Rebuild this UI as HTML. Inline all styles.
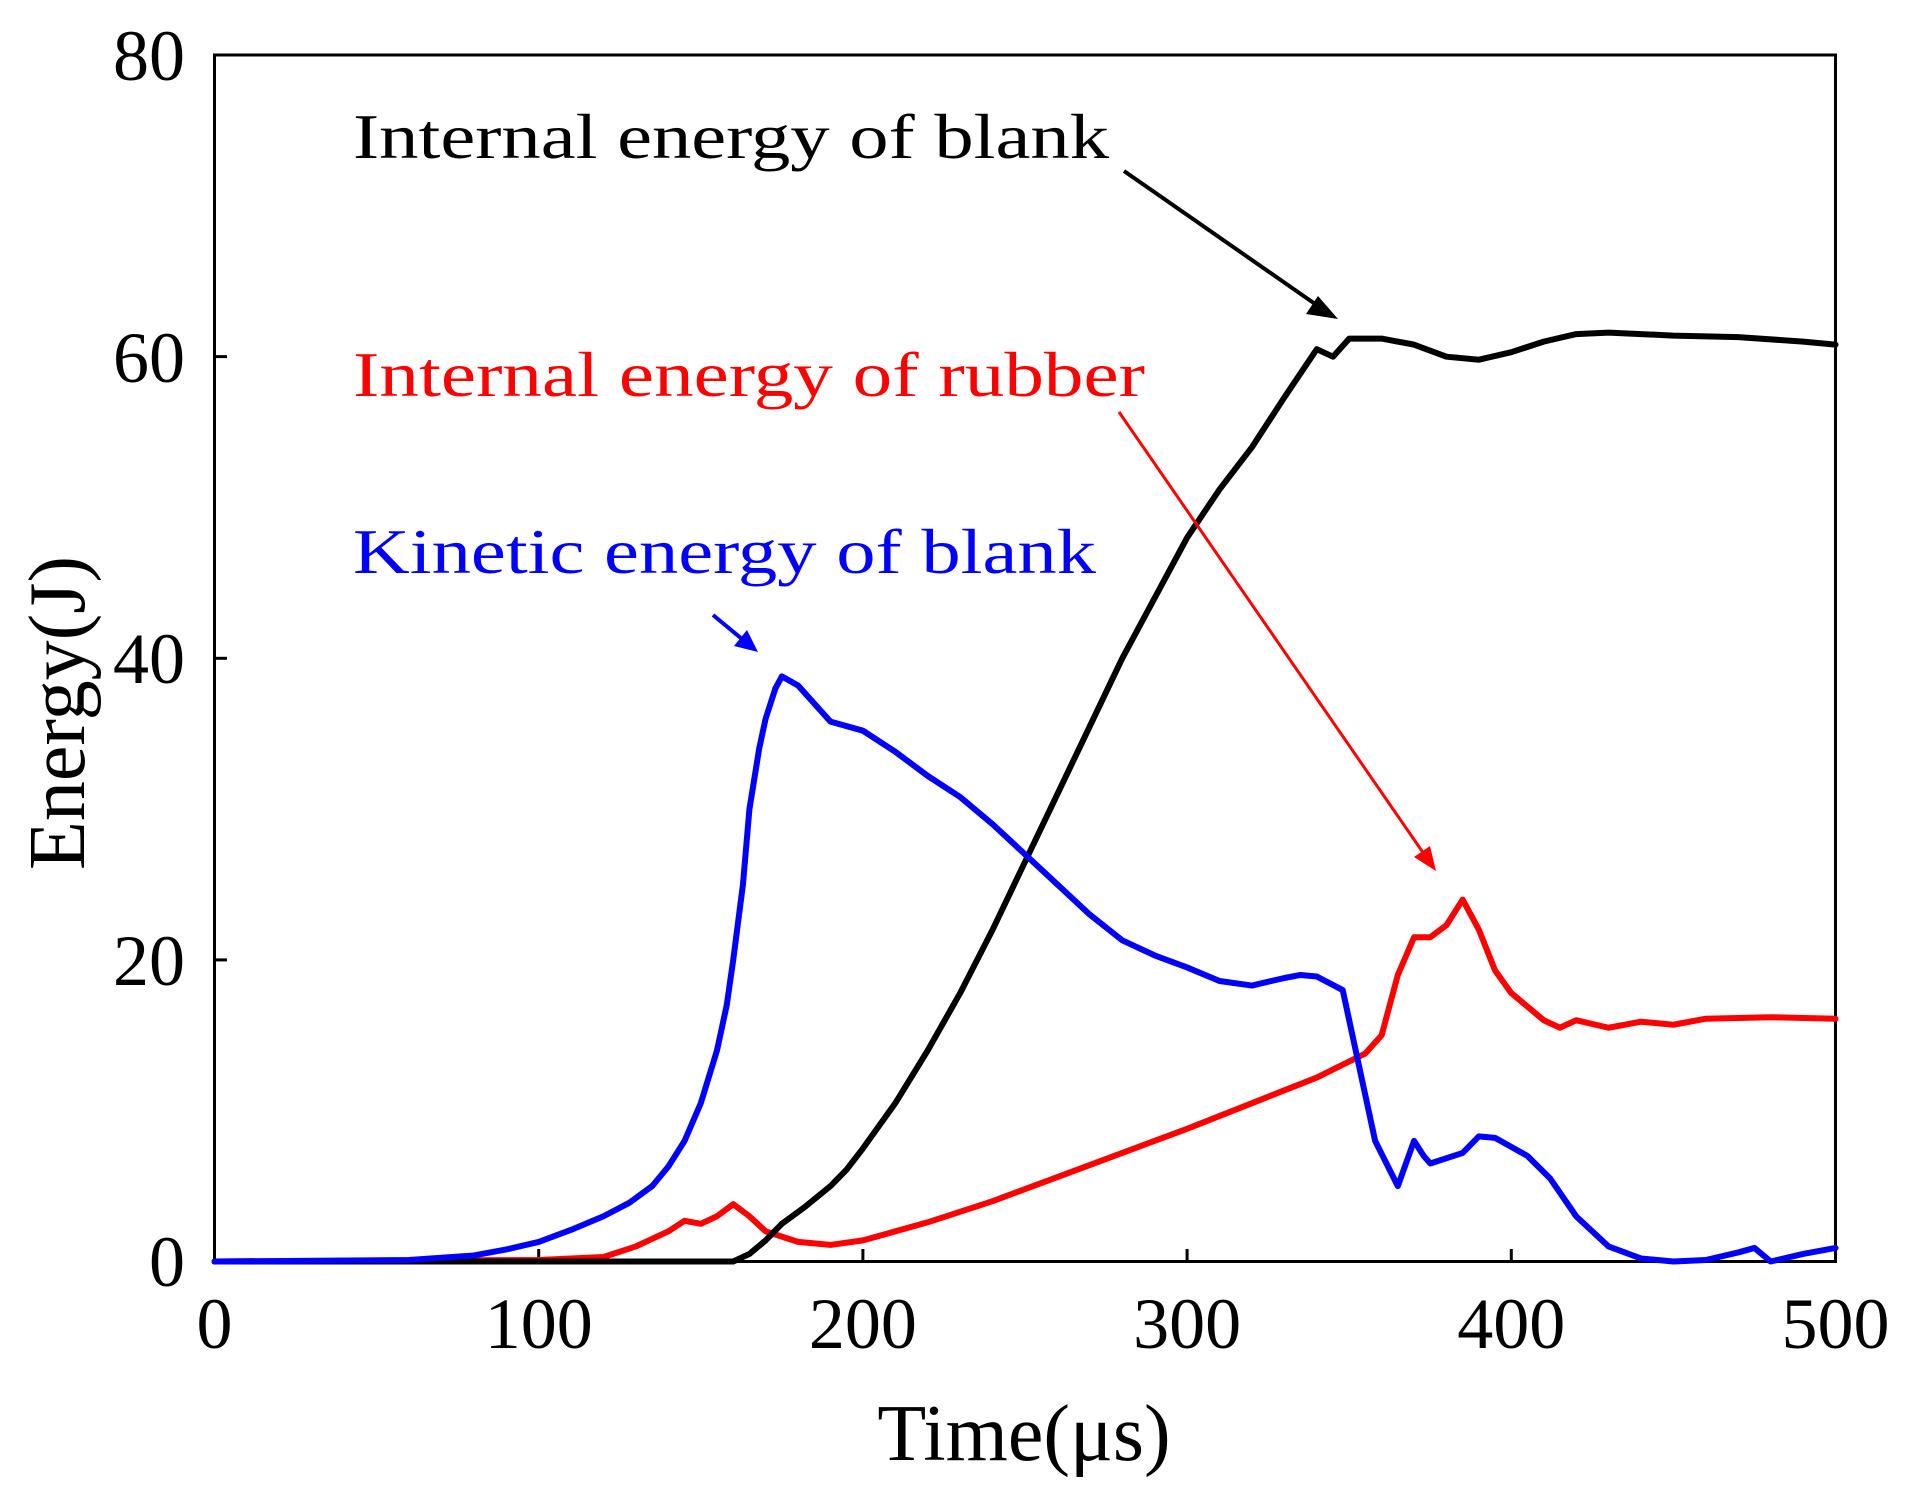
<!DOCTYPE html>
<html><head><meta charset="utf-8"><style>html,body{margin:0;padding:0;background:#fff;}svg{display:block}</style></head>
<body>
<svg width="1911" height="1498" viewBox="0 0 1911 1498" xmlns="http://www.w3.org/2000/svg" font-family="Liberation Serif, serif">
<rect width="1911" height="1498" fill="#fff"/>
<rect x="214.5" y="55" width="1621" height="1206.5" fill="none" stroke="#000" stroke-width="3"/>
<g stroke="#000" stroke-width="3">
<line x1="538.7" y1="1261.5" x2="538.7" y2="1249"/><line x1="862.9" y1="1261.5" x2="862.9" y2="1249"/><line x1="1187.1" y1="1261.5" x2="1187.1" y2="1249"/><line x1="1511.3" y1="1261.5" x2="1511.3" y2="1249"/>
<line x1="214.5" y1="959.9" x2="227" y2="959.9"/><line x1="214.5" y1="658.3" x2="227" y2="658.3"/><line x1="214.5" y1="356.6" x2="227" y2="356.6"/>
</g>
<g font-size="72" text-anchor="end" fill="#000">
<text x="185" y="1286">0</text><text x="185" y="985">20</text><text x="185" y="683">40</text><text x="185" y="382">60</text><text x="185" y="80">80</text>
</g>
<g font-size="72" text-anchor="middle" fill="#000">
<text x="214.5" y="1348">0</text><text x="538.7" y="1348">100</text><text x="862.9" y="1348">200</text><text x="1187.1" y="1348">300</text><text x="1511.3" y="1348">400</text><text x="1835.5" y="1348">500</text>
</g>
<g font-size="80" text-anchor="middle" fill="#000">
<text x="1024" y="1460">Time(μs)</text>
<text transform="translate(84,713) rotate(-90)">Energy(J)</text>
</g>
<g transform="translate(214.5,1261.5) scale(3.242,-15.08)" fill="none" stroke-width="6" stroke-linejoin="round" stroke-linecap="round">
<polyline vector-effect="non-scaling-stroke" stroke="#ff0000" points="0,0 100,0.1 120,0.3 130,1 140,2 145,2.7 150,2.5 155,3 160,3.8 165,3 170,2 180,1.3 190,1.1 200,1.4 220,2.6 240,4 260,5.6 280,7.2 300,8.8 320,10.5 340,12.2 355,13.8 360,15 365,19 370,21.5 375,21.5 380,22.3 385,24 390,22 395,19.3 400,17.8 410,16 415,15.5 420,16 430,15.5 440,15.9 450,15.7 460,16.1 480,16.2 500,16.1"/>
<polyline vector-effect="non-scaling-stroke" stroke="#000" points="0,0 160,0 165,0.5 170,1.4 175,2.5 182,3.6 190,5 195,6.1 200,7.5 210,10.5 220,14 230,17.8 240,22 250,26.5 260,31 270,35.5 280,40 290,44 300,48 310,51.2 320,54 330,57.3 340,60.5 345,60 350,61.2 360,61.2 370,60.8 380,60 390,59.8 400,60.3 410,61 420,61.5 430,61.6 450,61.4 470,61.3 490,61 500,60.8"/>
<polyline vector-effect="non-scaling-stroke" stroke="#0000ff" points="0,0 60,0.1 80,0.4 90,0.8 100,1.3 110,2.1 120,3 128,3.9 135,5 140,6.3 145,8 150,10.5 155,14 158,17 160,20 163,25 165,30 168,34 170,36 173,38 175,38.8 180,38.2 190,35.8 200,35.2 210,33.8 220,32.2 230,30.8 240,29 250,27 260,25 270,23 280,21.3 290,20.3 300,19.5 310,18.6 320,18.3 330,18.8 335,19 340,18.9 348,18 352,14 358,8 365,5 370,8 373,7 375,6.5 385,7.2 390,8.3 395,8.2 405,7 412,5.5 420,3 430,1 440,0.2 450,0 460,0.1 470,0.6 475,0.9 480,0 490,0.5 500,0.9"/>
</g>
<g font-size="64">
<text x="353" y="158" fill="#000" textLength="756" lengthAdjust="spacingAndGlyphs">Internal energy of blank</text>
<text x="353" y="396" fill="#ff0000" textLength="792" lengthAdjust="spacingAndGlyphs">Internal energy of rubber</text>
<text x="353" y="573" fill="#0000ff" textLength="743" lengthAdjust="spacingAndGlyphs">Kinetic energy of blank</text>
</g>
<line x1="1124" y1="171" x2="1318" y2="306" stroke="#000" stroke-width="4"/>
<polygon points="1338,319 1306,314 1318,296" fill="#000"/>
<line x1="1119" y1="412" x2="1424" y2="854" stroke="#ff0000" stroke-width="3"/>
<polygon points="1436,871 1414,857 1430,846" fill="#ff0000"/>
<line x1="713" y1="615" x2="742" y2="639" stroke="#0000ff" stroke-width="4"/>
<polygon points="758,652 734,646 747,630" fill="#0000ff"/>
</svg>
</body></html>
